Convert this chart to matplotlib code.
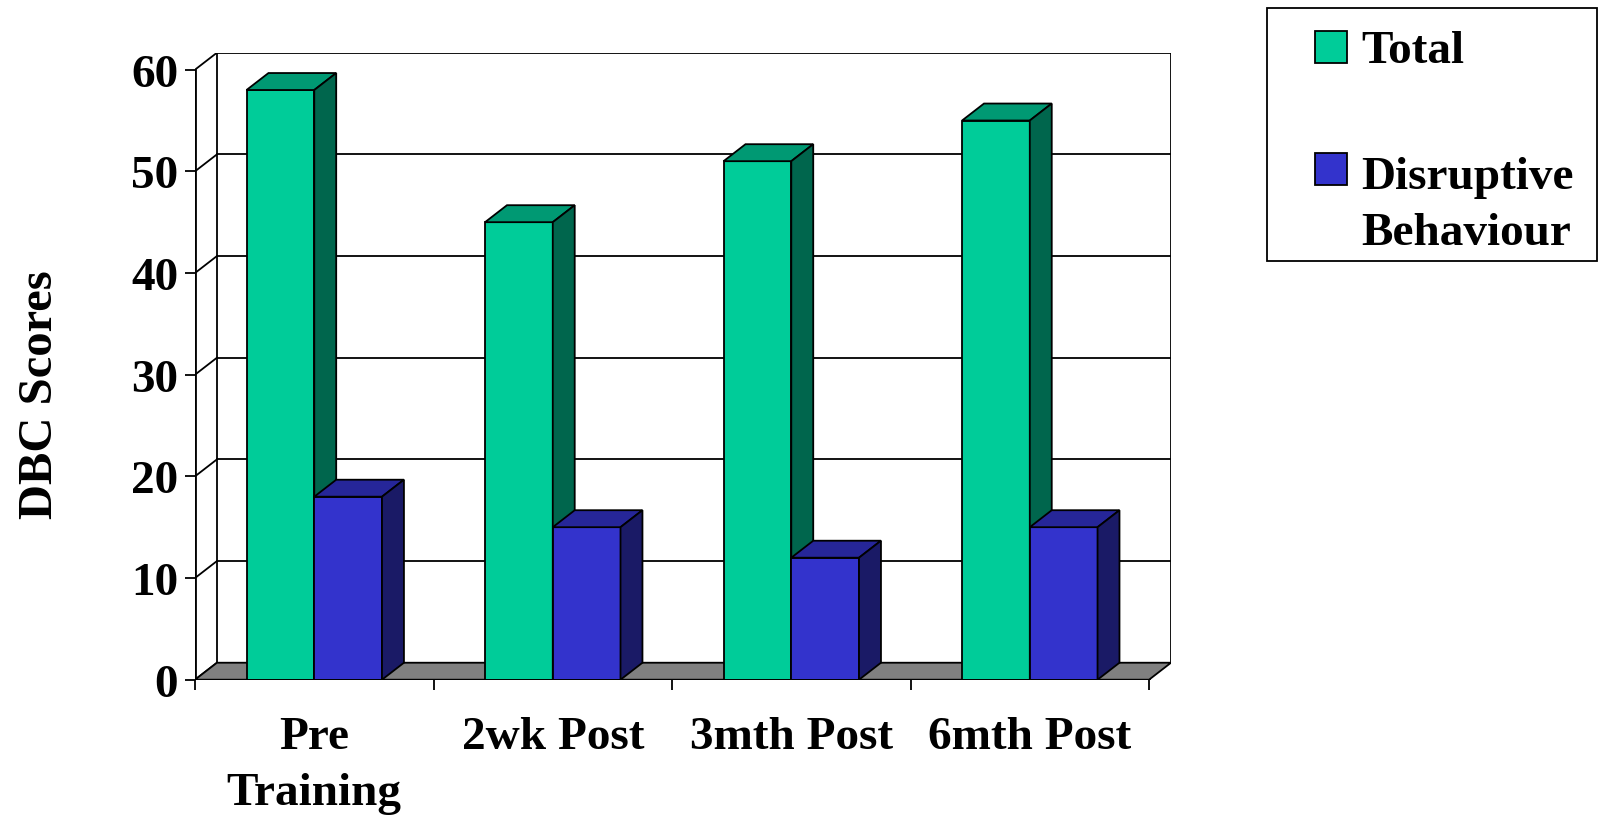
import numpy as np
import matplotlib.pyplot as plt
from matplotlib.patches import Polygon, Rectangle

categories = ['Pre\nTraining', '2wk Post', '3mth Post', '6mth Post']
total = [58, 45, 51, 55]
disruptive = [18, 15, 12, 15]
series_names = ['Total', 'Disruptive\nBehaviour']
yticks = [0, 10, 20, 30, 40, 50, 60]

plt.rcParams['font.family'] = ['Liberation Serif', 'DejaVu Serif']
plt.rcParams['font.weight'] = 'bold'

# front / top / side shades of each series
shades = [('#00cc99', '#009973', '#00664d'),
          ('#3333cc', '#262699', '#1a1a66')]

# depth of the fake 3D effect, in data units
DX, DY = 0.092, 1.67
YMAX = yticks[-1]
n = len(categories)
bar_w = 0.284
lw = 1.3


def box(ax, x0, w, h, colors):
    front, top, side = colors
    kw = dict(edgecolor='black', linewidth=lw, joinstyle='miter', zorder=3)
    ax.add_patch(Polygon([(x0, 0), (x0 + w, 0), (x0 + w, h), (x0, h)],
                         facecolor=front, **kw))
    ax.add_patch(Polygon([(x0, h), (x0 + w, h), (x0 + w + DX, h + DY), (x0 + DX, h + DY)],
                         facecolor=top, **kw))
    ax.add_patch(Polygon([(x0 + w, 0), (x0 + w + DX, DY), (x0 + w + DX, h + DY), (x0 + w, h)],
                         facecolor=side, **kw))


fig = plt.figure(figsize=(15.99, 8.2), dpi=100)
ax = fig.add_axes([195 / 1599, 1 - 680.7 / 820, 976 / 1599, 627 / 820])
ax.set_xlim(0, n + DX)
ax.set_ylim(0, YMAX + DY)
for s in ax.spines.values():
    s.set_visible(False)

# back wall, gridlines and left side wall
for k in yticks:
    ax.plot([0, DX], [k, k + DY], color='black', lw=lw, zorder=1)
    if 0 < k:
        ax.plot([DX, n + DX], [k + DY, k + DY], color='black', lw=lw, zorder=1)
ax.plot([DX, DX], [DY, YMAX + DY], color='black', lw=lw, zorder=1)
ax.plot([n + DX, n + DX], [DY, YMAX + DY], color='black', lw=lw, zorder=1)

# floor
ax.add_patch(Polygon([(0, 0), (n, 0), (n + DX, DY), (DX, DY)],
                     facecolor='#808080', edgecolor='black', linewidth=lw, zorder=2))

# bars
for i in range(n):
    x0 = i + 0.5 - bar_w
    box(ax, x0, bar_w, total[i], shades[0])
    box(ax, x0 + bar_w, bar_w, disruptive[i], shades[1])

# front axis lines
ax.plot([0, 0], [0, YMAX], color='black', lw=2, zorder=4, solid_capstyle='projecting')
ax.plot([0, n], [0, 0], color='black', lw=2, zorder=4, solid_capstyle='projecting')

ax.set_yticks(yticks)
ax.tick_params(axis='y', length=7.2, width=1.3, pad=5, labelsize=34)
ax.set_xticks(range(n + 1))
ax.set_xticklabels([])
ax.set_xticks(np.arange(n) + 0.5, minor=True)
ax.set_xticklabels(categories, minor=True, linespacing=1.45)
ax.tick_params(axis='x', which='major', length=7.2, width=1.3)
ax.tick_params(axis='x', which='minor', length=0, pad=26, labelsize=34)

fig.text(40 / 1599, 1 - 394.7 / 820, 'DBC Scores', rotation=90,
         ha='center', va='center', fontsize=35)

# legend box
fig.add_artist(Rectangle((1267 / 1599, 1 - 262 / 820), 330 / 1599, 253 / 820,
                         transform=fig.transFigure, fill=False, edgecolor='black', lw=lw))
for (front, _, _), name, sq_top, base in zip(shades, series_names, [31.7, 154.3], [63.3, 245]):
    fig.add_artist(Rectangle((1315 / 1599, 1 - (sq_top + 32) / 820), 32 / 1599, 32 / 820,
                             transform=fig.transFigure, facecolor=front,
                             edgecolor='black', lw=lw))
    fig.text(1361 / 1599, 1 - base / 820, name, ha='left', va='baseline',
             fontsize=34, linespacing=1.45)

fig.savefig('out.png', dpi=100)
